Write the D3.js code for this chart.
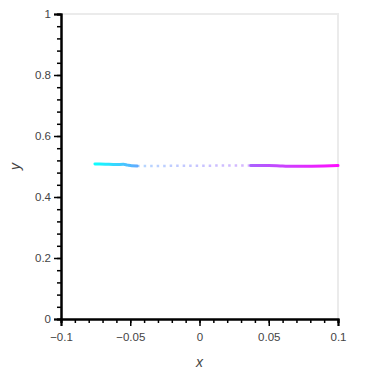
<!DOCTYPE html>
<html>
<head>
<meta charset="utf-8">
<script src="https://cdn.jsdelivr.net/npm/d3@7"></script>
<style>
  body { margin: 0; background: #fff; }
  text { font-family: "Liberation Sans", Arial, sans-serif; }
</style>
</head>
<body>
<div id="chart"></div>
<script>
// values
var leftX  = [-0.0755, -0.068, -0.060, -0.055, -0.052, -0.049, -0.045];
var leftY  = [0.5085, 0.5075, 0.5065, 0.5070, 0.5045, 0.5025, 0.5020];
var midX   = [-0.045, -0.030, -0.015, 0.000, 0.015, 0.030, 0.037];
var midY   = [0.5020, 0.5020, 0.5022, 0.5025, 0.5030, 0.5035, 0.5035];
var rightX = [0.037, 0.050, 0.060, 0.070, 0.080, 0.090, 0.100];
var rightY = [0.5035, 0.5030, 0.5015, 0.5005, 0.5010, 0.5020, 0.5030];
var xTicks = [-0.1, -0.05, 0, 0.05, 0.1];
var yTicks = [0, 0.2, 0.4, 0.6, 0.8, 1];
// colour position (0 = cyan, 1 = magenta) at a few x values
var colorX = [-0.0755, -0.045, 0.037, 0.100];
var colorT = [0.0, 0.35, 0.65, 1.0];

var W = 375, H = 375;
var m = {top: 14, right: 37, bottom: 56, left: 61};

var svg = d3.select("#chart").append("svg")
  .attr("width", W).attr("height", H);

var x = d3.scaleLinear().domain([-0.1, 0.1]).range([m.left, W - m.right]);
var y = d3.scaleLinear().domain([0, 1]).range([H - m.bottom, m.top]);

// frame (top and right)
svg.append("path")
  .attr("d", "M" + x(-0.1) + "," + y(1) + "H" + x(0.1) + "V" + y(0))
  .attr("fill", "none").attr("stroke", "#ebebeb").attr("stroke-width", 2);

// cool colormap: cyan -> magenta
var cool = function(t) { return d3.rgb(255 * t, 255 * (1 - t), 255).toString(); };

var x0 = x(colorX[0]), x1 = x(colorX[colorX.length - 1]);
var grad = svg.append("defs").append("linearGradient")
  .attr("id", "cool").attr("gradientUnits", "userSpaceOnUse")
  .attr("x1", x0).attr("x2", x1).attr("y1", 0).attr("y2", 0);
colorX.forEach(function(cx, i) {
  grad.append("stop")
    .attr("offset", ((x(cx) - x0) / (x1 - x0) * 100) + "%")
    .attr("stop-color", cool(colorT[i]));
});

var line = d3.line().x(function(d) { return x(d[0]); }).y(function(d) { return y(d[1]); })
  .curve(d3.curveMonotoneX);

function pts(xs, ys) { return xs.map(function(v, i) { return [v, ys[i]]; }); }

svg.append("path").datum(pts(midX, midY))
  .attr("d", line).attr("fill", "none")
  .attr("stroke", "url(#cool)").attr("stroke-opacity", 0.45)
  .attr("stroke-width", 2.5).attr("stroke-dasharray", "2.5,4");

[pts(leftX, leftY), pts(rightX, rightY)].forEach(function(p) {
  svg.append("path").datum(p)
    .attr("d", line).attr("fill", "none")
    .attr("stroke", "url(#cool)").attr("stroke-width", 3)
    .attr("stroke-linecap", "round").attr("stroke-opacity", 0.95);
});

// axes
var xAxis = svg.append("g").attr("transform", "translate(0," + y(0) + ")");
xAxis.call(d3.axisBottom(x).tickValues(d3.range(-0.1, 0.1001, 0.01)).tickSize(4).tickFormat(""));
xAxis.append("g").call(d3.axisBottom(x).tickValues(xTicks).tickSize(7)
  .tickFormat(function(d) { return d3.format("")(+d.toFixed(2)); }));

var yAxis = svg.append("g").attr("transform", "translate(" + x(-0.1) + ",0)");
yAxis.call(d3.axisLeft(y).tickValues(d3.range(0, 1.0001, 0.04)).tickSize(4).tickFormat(""));
yAxis.append("g").call(d3.axisLeft(y).tickValues(yTicks).tickSize(7)
  .tickFormat(function(d) { return d3.format("")(+d.toFixed(1)); }));

svg.selectAll(".domain").attr("stroke", "#000").attr("stroke-width", 2);
svg.selectAll(".tick line").attr("stroke", "#000").attr("stroke-width", 1.5);
svg.selectAll(".tick text").attr("fill", "#444").attr("font-size", 11.5);
xAxis.selectAll(".tick text").attr("dy", "1.05em");

svg.append("text").attr("x", x(0)).attr("y", H - 8)
  .attr("text-anchor", "middle").attr("font-size", 14).attr("font-style", "italic")
  .attr("fill", "#444").text("x");
svg.append("text")
  .attr("transform", "translate(20," + y(0.5) + ") rotate(-90)")
  .attr("text-anchor", "middle").attr("font-size", 14).attr("font-style", "italic")
  .attr("fill", "#444").text("y");
</script>
</body>
</html>
